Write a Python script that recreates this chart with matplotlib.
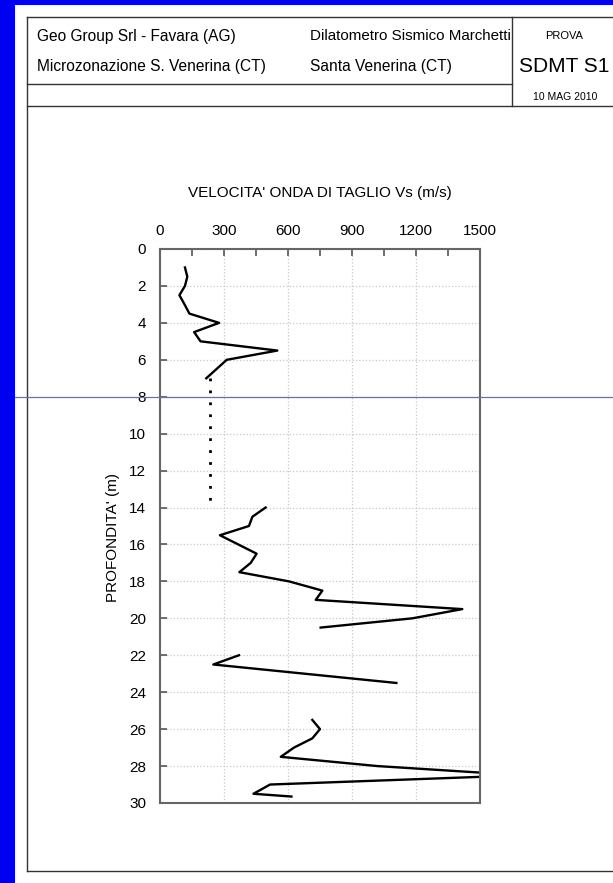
import matplotlib.pyplot as plt
from matplotlib.lines import Line2D
from matplotlib.patches import Rectangle
from matplotlib.ticker import MultipleLocator

plt.rcParams['font.family'] = ['Liberation Sans', 'DejaVu Sans']

# Vs profile, one list pair per test run
depth_a = [1.0, 1.5, 2.0, 2.5, 3.0, 3.5, 4.0, 4.5, 5.0, 5.5, 6.0, 6.5, 7.0]
vs_a = [117, 128, 117, 91, 115, 138, 277, 160, 190, 550, 313, 265, 217]

# assumed constant value over the gap
depth_gap = [7.0, 14.0]
vs_gap = [233, 233]

depth_b = [14.0, 14.5, 15.0, 15.5, 16.0, 16.5, 17.0, 17.5, 18.0, 18.5, 19.0,
           19.5, 20.0, 20.5]
vs_b = [495, 433, 417, 281, 367, 453, 425, 372, 605, 761, 730, 1417, 1183, 753]

depth_c = [22.0, 22.5, 23.0, 23.5]
vs_c = [370, 250, 679, 1108]

depth_d = [25.5, 26.0, 26.5, 27.0, 27.5, 28.0, 28.5, 29.0, 29.5, 29.65]
vs_d = [714, 750, 714, 628, 566, 1019, 1700, 516, 438, 616]

x_ticks = [0, 300, 600, 900, 1200, 1500]
y_ticks = list(range(0, 31, 2))

W, H = 613, 883
fig = plt.figure(figsize=(W / 100, H / 100), dpi=100)


def fx(px):
    return px / W


def fy(py):
    return 1 - py / H


def hline(y, x0, x1, **kw):
    fig.add_artist(Line2D([fx(x0), fx(x1)], [fy(y), fy(y)], transform=fig.transFigure, **kw))


def vline(x, y0, y1, **kw):
    fig.add_artist(Line2D([fx(x), fx(x)], [fy(y0), fy(y1)], transform=fig.transFigure, **kw))


# blue page border
fig.add_artist(Rectangle((0, 0), fx(15), 1, transform=fig.transFigure, color='#0000f0', lw=0))
fig.add_artist(Rectangle((0, fy(5)), 1, fy(0) - fy(5), transform=fig.transFigure, color='#0000f0', lw=0))

# sheet frame and header boxes
frame = dict(color='#333333', lw=1.0)
hline(17, 27, 613, **frame)
hline(871, 27, 613, **frame)
vline(27, 17, 871, **frame)
hline(84, 27, 512, **frame)
hline(106, 27, 613, **frame)
vline(512, 17, 106, **frame)

fig.text(fx(37), fy(36), "Geo Group Srl - Favara (AG)", fontsize=11.2, va='center')
fig.text(fx(37), fy(66), "Microzonazione S. Venerina (CT)", fontsize=11.2, va='center')
fig.text(fx(310), fy(36), "Dilatometro Sismico Marchetti", fontsize=10.9, va='center')
fig.text(fx(310), fy(66), "Santa Venerina (CT)", fontsize=11.2, va='center')
fig.text(fx(564), fy(36), "PROVA", fontsize=8, ha='center', va='center')
fig.text(fx(564), fy(66), "SDMT S1", fontsize=15, ha='center', va='center')
fig.text(fx(565), fy(97), "10 MAG 2010", fontsize=7.5, ha='center', va='center')

# chart
ax = fig.add_axes([fx(160), fy(803), fx(480) - fx(160), fy(249) - fy(803)])
ax.plot(vs_a, depth_a, color='black', lw=1.7)
ax.plot(vs_gap, depth_gap, color='black', lw=2.0, linestyle=(0, (1, 3.3)),
        dash_capstyle='butt')
ax.plot(vs_b, depth_b, color='black', lw=1.7)
ax.plot(vs_c, depth_c, color='black', lw=1.7)
ax.plot(vs_d, depth_d, color='black', lw=1.7)

ax.set_xlim(0, 1500)
ax.set_ylim(30, 0)
ax.xaxis.tick_top()
ax.set_xticks(x_ticks)
ax.xaxis.set_minor_locator(MultipleLocator(150))
ax.set_yticks(y_ticks)
ax.tick_params(which='both', direction='in', color='#555555', labelsize=11, pad=8)
ax.tick_params(which='major', length=5, width=1.2)
ax.tick_params(which='minor', length=5, width=1.2)
ax.tick_params(axis='y', pad=10)
ax.grid(True, which='major', color='#c8c8c8', linestyle=':', lw=0.9)
for s in ax.spines.values():
    s.set_color('#666666')
    s.set_linewidth(1.5)

fig.text(fx(320), fy(193), "VELOCITA' ONDA DI TAGLIO Vs (m/s)", fontsize=11,
         ha='center', va='center')
fig.text(fx(113), fy(537), "PROFONDITA' (m)", fontsize=11, rotation=90,
         ha='center', va='center')

# thin blue guide line across the page
hline(397, 15, 613, color='#5a6ae8', lw=0.9)

fig.savefig('out.png', dpi=100)
